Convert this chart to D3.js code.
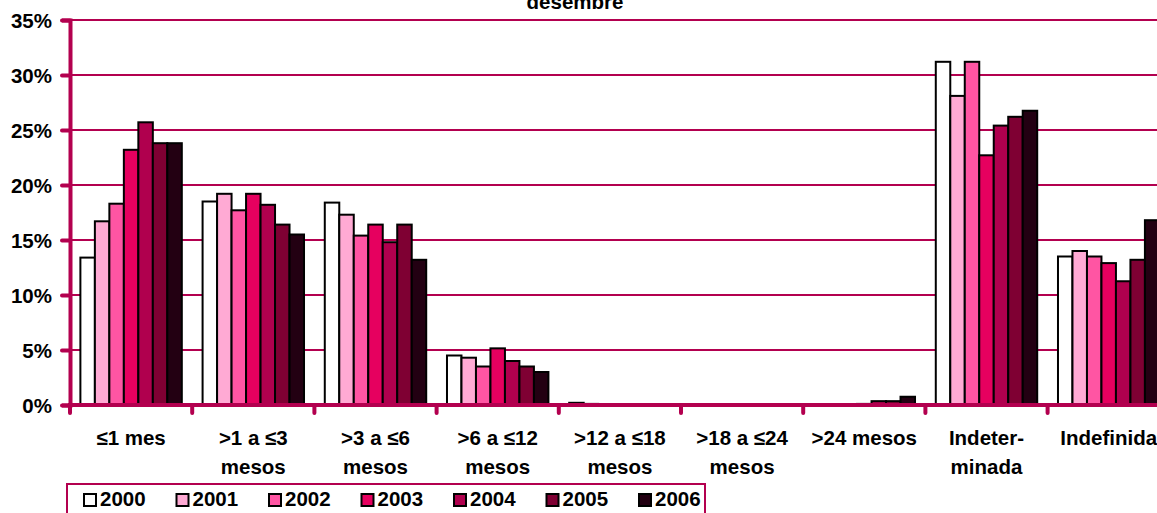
<!DOCTYPE html>
<html><head><meta charset="utf-8">
<script src="https://cdn.jsdelivr.net/npm/d3@7"></script>
<style>
html,body{margin:0;padding:0;background:#fff;overflow:hidden}
svg{display:block;font-family:"Liberation Sans",Arial,sans-serif;font-weight:bold}
</style></head><body>
<svg id="c" width="1157" height="513"></svg>
<script>
const categories = [["≤1 mes"],[">1 a ≤3","mesos"],[">3 a ≤6","mesos"],[">6 a ≤12","mesos"],[">12 a ≤18","mesos"],[">18 a ≤24","mesos"],[">24 mesos"],["Indeter-","minada"],["Indefinida"]];
const years = ["2000","2001","2002","2003","2004","2005","2006"];
const v2000 = [13.4,18.5,18.4,4.5,0.2,0.0,0.0,31.2,13.5];
const v2001 = [16.7,19.2,17.3,4.3,0.1,0.0,0.0,28.1,14.0];
const v2002 = [18.3,17.7,15.4,3.5,0.05,0.0,0.0,31.2,13.5];
const v2003 = [23.2,19.2,16.4,5.15,0.05,0.0,0.1,22.7,12.9];
const v2004 = [25.7,18.2,14.8,4.0,0.05,0.0,0.35,25.4,11.25];
const v2005 = [23.8,16.4,16.4,3.5,0.05,0.0,0.35,26.2,13.2];
const v2006 = [23.8,15.5,13.2,3.0,0.0,0.0,0.75,26.75,16.8];
const series = [v2000,v2001,v2002,v2003,v2004,v2005,v2006];
const colors = ["#FFFFFF","#FFAAD4","#FF55A3","#E6005F","#B0004E","#7F0033","#230012"];
const yTicks = [0,5,10,15,20,25,30,35];
const title = "desembre";

const axisColor = "#B3004F";
const FS = 20.5;
const svg = d3.select("#c");
const x0 = 70, stepW = 122.2;
const x = d3.scaleBand().domain(d3.range(categories.length)).range([x0, x0 + stepW*categories.length]).paddingInner(0.17).paddingOuter(0.085);
const xi = d3.scaleBand().domain(years).range([0, x.bandwidth()]);
const y = d3.scaleLinear().domain([0,35]).range([405,20]);

// title (partly above the top edge, as in the original)
svg.append("text").attr("x",575).attr("y",9).attr("text-anchor","middle").attr("font-size",FS).text(title);

// gridlines
svg.append("g").selectAll("line").data(yTicks.filter(d=>d>0)).join("line")
  .attr("x1",x0).attr("x2",1157).attr("y1",d=>y(d)).attr("y2",d=>y(d))
  .attr("stroke",axisColor).attr("stroke-width",2);

// bars
const g = svg.append("g");
years.forEach((yr,si)=>{
  g.append("g").selectAll("rect").data(series[si]).join("rect")
    .attr("x",(d,i)=>x(i)+xi(yr))
    .attr("y",d=>y(d))
    .attr("width",xi.bandwidth())
    .attr("height",d=>y(0)-y(d))
    .attr("fill",colors[si]).attr("stroke","#000").attr("stroke-width",2);
});

// y axis
const yAxis = d3.axisLeft(y).tickValues(yTicks).tickFormat(d=>d+"%").tickSize(8).tickPadding(10);
const ya = svg.append("g").attr("transform",`translate(${x0},0)`).call(yAxis);
ya.attr("font-size",FS).attr("font-family","Liberation Sans, Arial, sans-serif");
ya.select(".domain").attr("stroke",axisColor).attr("stroke-width",4);
ya.selectAll(".tick line").attr("stroke",axisColor).attr("stroke-width",4).attr("stroke-linecap","round");
ya.selectAll(".tick text").attr("fill","#000").attr("font-size",FS).attr("font-weight","bold").attr("dy","0.35em");

// x axis line
svg.append("line").attr("x1",x0-2).attr("x2",1157).attr("y1",y(0)).attr("y2",y(0)).attr("stroke",axisColor).attr("stroke-width",4);
// x ticks at boundaries
const bounds = d3.range(categories.length+1).map(i=>x0+i*stepW);
svg.append("g").selectAll("line").data(bounds).join("line")
  .attr("x1",d=>d).attr("x2",d=>d).attr("y1",y(0)).attr("y2",y(0)+8)
  .attr("stroke",axisColor).attr("stroke-width",4).attr("stroke-linecap","round");

// category labels
const cl = svg.append("g").selectAll("text").data(categories).join("text")
  .attr("x",(d,i)=>x0+(i+0.5)*stepW).attr("y",445).attr("text-anchor","middle").attr("font-size",FS);
cl.selectAll("tspan").data(d=>d).join("tspan")
  .attr("x",function(){return this.parentNode.getAttribute("x");})
  .attr("dy",(d,i)=>i===0?0:29).text(d=>d);

// legend
svg.append("rect").attr("x",67).attr("y",484).attr("width",638).attr("height",40)
  .attr("fill","#fff").attr("stroke",axisColor).attr("stroke-width",2);
const lg = svg.append("g").selectAll("g").data(years).join("g")
  .attr("transform",(d,i)=>`translate(${84+i*92.5},0)`);
lg.append("rect").attr("x",0).attr("y",494).attr("width",12).attr("height",12)
  .attr("fill",(d,i)=>colors[i]).attr("stroke","#000").attr("stroke-width",2);
lg.append("text").attr("x",16).attr("y",506).attr("font-size",FS).text(d=>d);
</script></body></html>
